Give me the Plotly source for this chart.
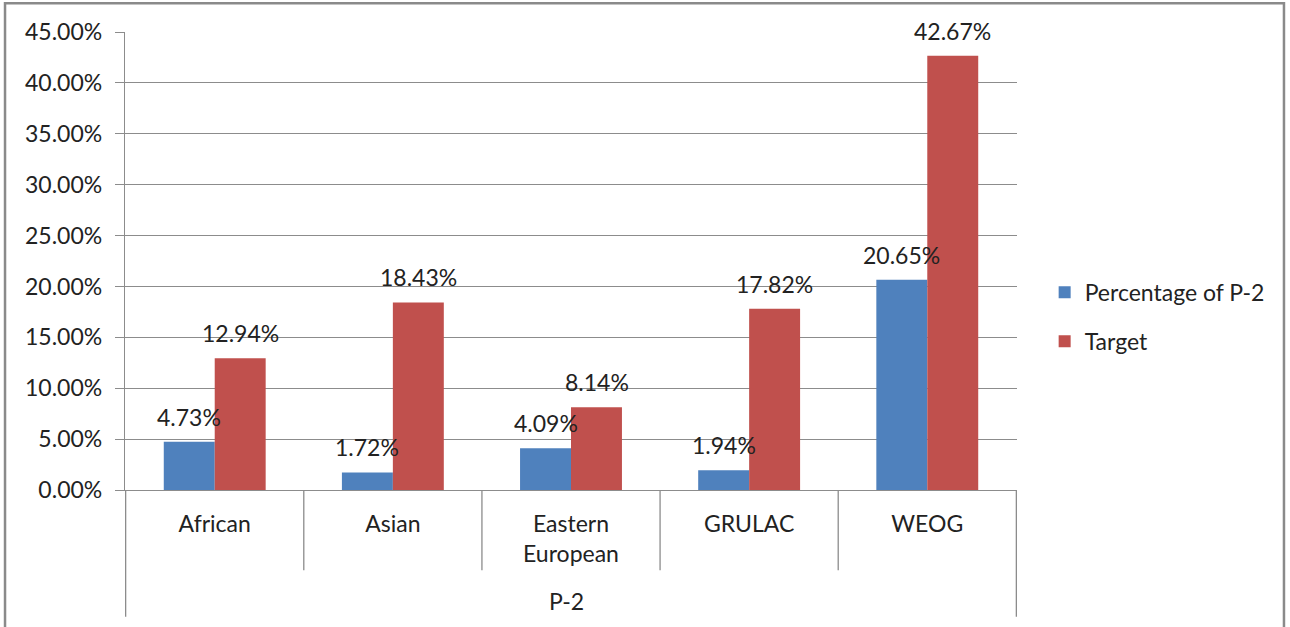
import plotly.graph_objects as go

# Regional groups and their shares
categories = ["African", "Asian", "Eastern European", "GRULAC", "WEOG"]
category_labels = ["African", "Asian", "Eastern<br>European", "GRULAC", "WEOG"]
group_label = "P-2"
pct_p2 = [0.0473, 0.0172, 0.0409, 0.0194, 0.2065]
target = [0.1294, 0.1843, 0.0814, 0.1782, 0.4267]
y_ticks = [0.0, 0.05, 0.10, 0.15, 0.20, 0.25, 0.30, 0.35, 0.40, 0.45]

BLUE = "#4F81BD"
RED = "#C0504D"
GRID = "#8C8C8C"
FONT = "Lato"
FS = 23

fig = go.Figure()
fig.add_trace(go.Bar(x=categories, y=pct_p2, name="Percentage of P-2",
                     marker=dict(color=BLUE, line=dict(width=0)), legendgroup="a"))
fig.add_trace(go.Bar(x=categories, y=target, name="Target",
                     marker=dict(color=RED, line=dict(width=0)), legendgroup="b"))

# Value labels above each bar
for vals, shift in ((pct_p2, -25.5), (target, 25.5)):
    for c, v in zip(categories, vals):
        fig.add_annotation(x=c, y=v, xref="x", yref="y", text=f"{v*100:.2f}%",
                           showarrow=False, xshift=shift, yshift=25,
                           font=dict(family=FONT, size=FS, color="#222"))

# Category dividers below the axis
n = len(categories)
for i in range(n + 1):
    outer = i in (0, n)
    fig.add_shape(type="line", xref="x", yref="paper",
                  x0=i - 0.5, x1=i - 0.5, y0=0, y1=-0.277 if outer else -0.175,
                  line=dict(color=GRID, width=1.3))

# Outer group label
fig.add_annotation(x=(n - 1) / 2, y=-0.242, xref="x", yref="paper", text=group_label,
                   showarrow=False, xshift=-5, yanchor="middle",
                   font=dict(family=FONT, size=FS, color="#222"))

# Chart border
fig.add_shape(type="rect", xref="paper", yref="paper",
              x0=-0.1345, x1=1.2993, y0=-0.5, y1=1.063,
              line=dict(color="#8A8A8A", width=2.5))

fig.update_layout(
    width=1290, height=627,
    margin=dict(l=125, r=273, t=32, b=137),
    paper_bgcolor="white", plot_bgcolor="white",
    barmode="group", bargap=0.428, bargroupgap=0,
    font=dict(family=FONT, size=FS, color="#222"),
    showlegend=True,
    legend=dict(x=1.031, y=0.378, xanchor="left", yanchor="middle",
                tracegroupgap=16, font=dict(family=FONT, size=FS, color="#222"),
                bgcolor="rgba(0,0,0,0)"),
    xaxis=dict(tickmode="array", tickvals=categories, ticktext=category_labels,
               showline=True, linecolor=GRID, linewidth=1.3, ticks="",
               showgrid=False, ticklabelstandoff=13),
    yaxis=dict(range=[0, 0.45], tickvals=y_ticks, tickformat=".2%",
               showgrid=True, gridcolor=GRID, gridwidth=1.3,
               showline=True, linecolor=GRID, linewidth=1.3,
               ticks="outside", ticklen=9, tickcolor=GRID, tickwidth=1.3,
               zeroline=False, ticklabelstandoff=8),
)

fig.write_html("out.html")
